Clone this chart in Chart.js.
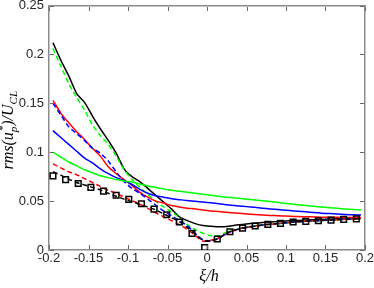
<!DOCTYPE html>
<html lang="en">
<head>
    <meta charset="UTF-8">
    <title>rms profiles</title>
    <script src="https://cdn.jsdelivr.net/npm/chart.js@4.4.0/dist/chart.umd.min.js"></script>
    <style>
        body { margin: 0; background: #fff; }
    </style>
</head>
<body>
    <canvas id="chart" width="374" height="288"></canvas>
    <script>
// sampling positions (xi/h) shared by the curves
const xs = [-0.195,-0.185,-0.175,-0.165,-0.155,-0.145,-0.135,-0.125,-0.115,-0.105,
            -0.095,-0.085,-0.075,-0.065,-0.055,-0.045,-0.035,-0.025,-0.015,-0.005,
             0.005, 0.015, 0.025, 0.035, 0.045, 0.055, 0.065, 0.075, 0.085, 0.095,
             0.105, 0.115, 0.125, 0.135, 0.145, 0.155, 0.165, 0.175, 0.185, 0.195];

const blackSolid = [0.212,0.194,0.178,0.160,0.151,0.137,0.124,0.112,0.099,0.083,
                    0.075,0.070,0.063,0.056,0.049,0.042,0.034,0.030,0.027,0.025,
                    0.0243,0.0238,0.024,0.0252,0.0262,0.027,0.0277,0.0283,0.0289,0.0294,
                    0.0298,0.0302,0.0306,0.031,0.0313,0.0316,0.0319,0.0321,0.0323,0.0325];

const greenDashed = [0.206,0.188,0.170,0.156,0.143,0.128,0.117,0.108,0.096,0.082,
                     0.072,0.064,0.057,0.050,0.044,0.039,0.033,0.026,0.021,0.017,
                     0.0145,0.0145,0.0185,0.021,0.0228,0.024,0.0252,0.026,0.0267,0.0273,
                     0.0282,0.0288,0.0293,0.0297,0.030,0.0305,0.031,0.0314,0.0318,0.032];

const redSolid = [0.153,0.140,0.130,0.121,0.113,0.104,0.096,0.085,0.078,0.072,
                  0.066,0.059,0.054,0.050,0.048,0.0455,0.044,0.0428,0.042,0.041,
                  0.040,0.0393,0.0385,0.0378,0.0372,0.0366,0.0361,0.0356,0.0352,0.0348,
                  0.0345,0.0342,0.034,0.0338,0.0336,0.0335,0.0334,0.0333,0.0332,0.0332];

const blueDashed = [0.150,0.138,0.126,0.119,0.112,0.104,0.099,0.091,0.080,0.070,
                    0.063,0.058,0.052,0.046,0.040,0.035,0.030,0.025,0.017,0.0105,
                    0.0095,0.012,0.017,0.020,0.0225,0.0237,0.0249,0.026,0.0267,0.0273,
                    0.0282,0.0289,0.0294,0.0298,0.0302,0.0306,0.031,0.0314,0.0318,0.0322];

const blueSolid = [0.122,0.115,0.108,0.101,0.094,0.089,0.083,0.078,0.074,0.071,
                   0.067,0.062,0.058,0.0555,0.054,0.0525,0.0515,0.0505,0.0498,0.049,
                   0.0482,0.0472,0.0462,0.0455,0.0447,0.044,0.0432,0.0424,0.0416,0.041,
                   0.0403,0.0396,0.039,0.0383,0.0377,0.0372,0.0367,0.0363,0.036,0.0357];

const greenSolid = [0.100,0.095,0.090,0.086,0.082,0.079,0.076,0.074,0.072,0.0705,
                    0.0695,0.0675,0.0655,0.064,0.0625,0.061,0.060,0.059,0.058,0.057,
                    0.056,0.055,0.054,0.0532,0.0524,0.0516,0.0508,0.050,0.049,0.048,
                    0.0472,0.0463,0.0455,0.0447,0.044,0.0433,0.0426,0.042,0.0414,0.041];

const redDashed = [0.088,0.084,0.080,0.077,0.073,0.069,0.065,0.061,0.058,0.054,
                   0.0505,0.047,0.0425,0.038,0.034,0.030,0.026,0.021,0.015,0.009,
                   0.010,0.0125,0.017,0.020,0.0225,0.0238,0.0249,0.026,0.0267,0.0273,
                   0.0282,0.0289,0.0294,0.0298,0.0302,0.0306,0.031,0.0314,0.0318,0.0322];

const blackDashed = [0.080,0.0765,0.0725,0.069,0.0665,0.064,0.0615,0.058,0.055,0.052,
                     0.0495,0.0465,0.044,0.041,0.037,0.033,0.029,0.023,0.016,0.010,
                     0.009,0.012,0.0175,0.0205,0.0225,0.0237,0.0249,0.026,0.0267,0.0273,
                     0.0282,0.0289,0.0294,0.0298,0.0302,0.0306,0.031,0.0314,0.0318,0.0322];

// open square markers
const squareX = [-0.195,-0.179,-0.163,-0.147,-0.131,-0.115,-0.099,-0.083,-0.067,-0.051,
                 -0.035,-0.019,-0.003,0.013,0.029,0.045,0.061,0.077,0.093,0.109,
                  0.125,0.141,0.157,0.173,0.189];
const squareY = [0.0758,0.072,0.068,0.064,0.0602,0.056,0.0517,0.0473,0.0418,0.036,
                 0.0286,0.017,0.0024,0.0112,0.0187,0.0224,0.0245,0.0262,0.0272,0.0286,
                 0.0293,0.0299,0.0306,0.0313,0.0319];

const xTickValues = [-0.2,-0.15,-0.1,-0.05,0,0.05,0.1,0.15,0.2];
const xTickLabels = ['-0.2','-0.15','-0.1','-0.05','0','0.05','0.1','0.15','0.2'];
const yTickValues = [0,0.05,0.1,0.15,0.2,0.25];
const yTickLabels = ['0','0.05','0.1','0.15','0.2','0.25'];

function pts(ys) {
    return xs.map((x, i) => ({ x: x, y: ys[i] }));
}

function line(data, color, dashed, order) {
    return {
        data: pts(data),
        borderColor: color,
        borderWidth: 1.5,
        borderDash: dashed ? [5, 3] : [],
        pointRadius: 0,
        tension: 0.2,
        fill: false,
        order: order
    };
}

const axisColor = '#262626';
const boxColor = '#8a8a8a';

// inward ticks on all four sides, plus math-style axis titles
const frame = {
    id: 'matlabBox',
    afterDraw(chart) {
        const c = chart.ctx;
        const a = chart.chartArea;
        const sx = chart.scales.x, sy = chart.scales.y;
        const L = Math.round(a.left), R = Math.round(a.right) - 1;
        const T = Math.round(a.top), B = Math.round(a.bottom) - 1;

        c.save();
        c.fillStyle = '#666666';
        xTickValues.forEach(v => {
            const p = Math.round(sx.getPixelForValue(v));
            c.fillRect(p, B - 4, 1, 4);
            c.fillRect(p, T + 1, 1, 4);
        });
        yTickValues.forEach(v => {
            const p = Math.round(sy.getPixelForValue(v));
            c.fillRect(L + 1, p, 4, 1);
            c.fillRect(R - 4, p, 4, 1);
        });
        c.restore();

        c.save();
        c.fillStyle = '#000';
        c.textBaseline = 'alphabetic';
        const big = 'italic 16px "Liberation Serif"';
        const small = 'italic 11px "Liberation Serif"';

        // y title: rms(u_p^*)/U_CL, rotated
        const parts = [
            { t: 'rms(u', f: big, dy: 0 },
            { t: 'p', f: small, dy: 4, stack: '*' },
            { t: ')/U', f: big, dy: 0 },
            { t: 'CL', f: small, dy: 4 }
        ];
        let total = 0;
        parts.forEach(p => {
            c.font = p.f;
            let w = c.measureText(p.t).width;
            if (p.stack) w = Math.max(w, c.measureText(p.stack).width);
            p.w = w + (p.f === small ? 1 : 0);
            total += p.w;
        });
        c.translate(13, (a.top + a.bottom) / 2 + 2);
        c.rotate(-Math.PI / 2);
        let x = -total / 2;
        parts.forEach(p => {
            c.font = p.f;
            c.fillText(p.t, x, p.dy);
            if (p.stack) c.fillText(p.stack, x + 1, -7);
            x += p.w;
        });
        c.restore();

        // x title
        c.save();
        c.fillStyle = '#000';
        c.font = big;
        c.textAlign = 'center';
        c.textBaseline = 'alphabetic';
        c.fillText('\u03BE/h', (a.left + a.right) / 2 + 2, 281);
        c.restore();
    }
};

const datasets = [
    {
        data: squareX.map((x, i) => ({ x: x, y: squareY[i] })),
        showLine: false,
        pointStyle: 'rect',
        pointRadius: 4,
        pointBorderWidth: 1.5,
        borderColor: '#000',
        pointBorderColor: '#000',
        pointBackgroundColor: 'rgba(255,255,255,0)',
        order: 0
    },
    line(blackDashed, '#000000', true, 1),
    line(redDashed, '#ff0000', true, 2),
    line(greenSolid, '#00ff00', false, 3),
    line(blueSolid, '#0000ff', false, 4),
    line(blueDashed, '#0000ff', true, 5),
    line(redSolid, '#ff0000', false, 6),
    line(greenDashed, '#00ff00', true, 7),
    line(blackSolid, '#000000', false, 8)
];

const boxBorder = { display: true, color: boxColor, width: 1.5 };

const ctx = document.getElementById('chart').getContext('2d');
new Chart(ctx, {
    type: 'line',
    data: { datasets: datasets },
    options: {
        responsive: false,
        animation: false,
        layout: { padding: { top: 5, right: 9, left: 0, bottom: 0 } },
        plugins: { legend: { display: false }, tooltip: { enabled: false } },
        scales: {
            x: {
                type: 'linear',
                min: -0.2,
                max: 0.2,
                afterBuildTicks: s => { s.ticks = xTickValues.map(v => ({ value: v })); },
                afterFit: s => { s.height = 38; s.paddingLeft = 0; s.paddingRight = 0; },
                ticks: {
                    callback: (v, i) => xTickLabels[i],
                    color: axisColor,
                    font: { family: 'Liberation Sans', size: 13 },
                    padding: 1,
                    maxRotation: 0,
                    autoSkip: false
                },
                grid: { display: false, drawTicks: false },
                border: boxBorder
            },
            xTop: {
                type: 'linear',
                position: 'top',
                min: -0.2,
                max: 0.2,
                afterFit: s => { s.height = 0; s.paddingLeft = 0; s.paddingRight = 0; },
                ticks: { display: false },
                grid: { display: false, drawTicks: false },
                border: boxBorder
            },
            y: {
                min: 0,
                max: 0.25,
                afterBuildTicks: s => { s.ticks = yTickValues.map(v => ({ value: v })); },
                afterFit: s => { s.width = 49; s.paddingTop = 0; s.paddingBottom = 0; },
                ticks: {
                    callback: (v, i) => yTickLabels[i],
                    color: axisColor,
                    font: { family: 'Liberation Sans', size: 13 },
                    padding: 5,
                    autoSkip: false
                },
                grid: { display: false, drawTicks: false },
                border: boxBorder
            },
            yRight: {
                position: 'right',
                min: 0,
                max: 0.25,
                afterFit: s => { s.width = 0; s.paddingTop = 0; s.paddingBottom = 0; },
                ticks: { display: false },
                grid: { display: false, drawTicks: false },
                border: boxBorder
            }
        }
    },
    plugins: [frame]
});
    </script>
</body>
</html>
